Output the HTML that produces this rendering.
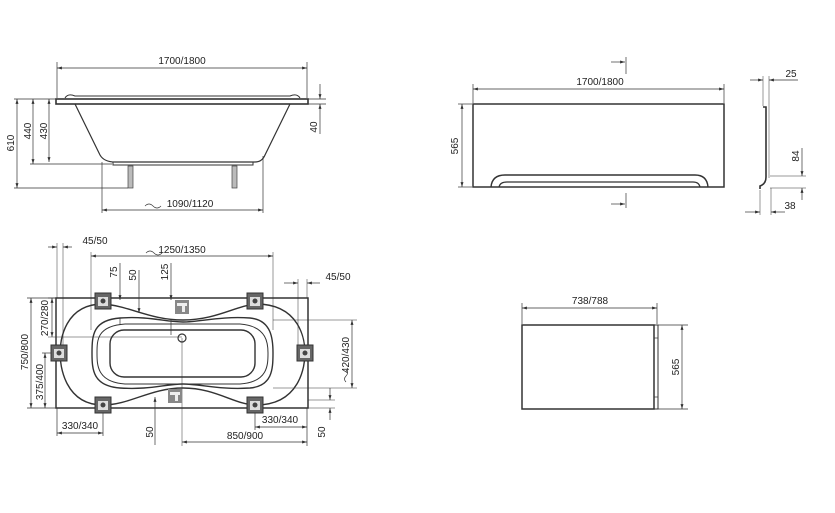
<!DOCTYPE html>
<html><head><meta charset="utf-8"><style>
html,body{margin:0;padding:0;background:#fff;}
svg{display:block;}
text{font-family:"Liberation Sans",sans-serif;font-size:10px;fill:#222;}
</style></head><body>
<svg width="835" height="513" viewBox="0 0 835 513" xmlns="http://www.w3.org/2000/svg">
<defs>
<marker id="a" viewBox="0 0 10 10" refX="10" refY="5" markerWidth="7" markerHeight="7" orient="auto-start-reverse"><path d="M0,2 L10,5 L0,8 z" fill="#333"/></marker>
<g id="br"><rect x="-8" y="-8" width="16" height="16" fill="#666" stroke="#333"/><rect x="-5" y="-4" width="10" height="9" fill="#ddd"/><circle cx="0" cy="0" r="2.5" fill="#444"/></g>
<g id="fc"><rect x="-7" y="-7" width="14" height="14" fill="#888"/><rect x="-5" y="-4" width="10" height="3" fill="#eee"/><rect x="0" y="-1" width="3" height="6" fill="#eee"/></g>
</defs>
<g stroke="#333" stroke-width="0.7" fill="none">
<!-- TOP LEFT: side view -->
<line x1="57" y1="68" x2="307" y2="68" marker-start="url(#a)" marker-end="url(#a)"/>
<line x1="57" y1="62" x2="57" y2="98"/><line x1="307" y1="62" x2="307" y2="98"/>
<path d="M65,98 Q68,93 75,96 L290,96 Q297,93 300,98" stroke-width="1"/>
<rect x="56" y="99" width="252" height="5" stroke-width="1.6"/>
<path d="M75,104 L100,155 Q104,162 115,162 L255,162 Q262,162 265,155 L290,104" stroke-width="1.2"/>
<path d="M113,162 L113,165 L253,165 L253,162" stroke-width="1"/>
<rect x="128" y="166" width="5" height="22" fill="#bbb" stroke="#444"/>
<rect x="232" y="166" width="5" height="22" fill="#bbb" stroke="#444"/>
<line x1="14" y1="99" x2="56" y2="99"/><line x1="30" y1="164" x2="112" y2="164"/><line x1="14" y1="188" x2="128" y2="188"/>
<line x1="17" y1="99" x2="17" y2="188" marker-start="url(#a)" marker-end="url(#a)"/>
<line x1="33" y1="99" x2="33" y2="164" marker-start="url(#a)" marker-end="url(#a)"/>
<line x1="49" y1="99" x2="49" y2="162" marker-start="url(#a)" marker-end="url(#a)"/>
<line x1="308" y1="99" x2="326" y2="99"/><line x1="308" y1="104" x2="326" y2="104"/>
<line x1="320" y1="84" x2="320" y2="99" marker-end="url(#a)"/><line x1="320" y1="134" x2="320" y2="104" marker-end="url(#a)"/>
<line x1="102" y1="162" x2="102" y2="213"/><line x1="263" y1="156" x2="263" y2="213"/>
<line x1="102" y1="210" x2="263" y2="210" marker-start="url(#a)" marker-end="url(#a)"/>
<path d="M145,206 q4,-4 8,0 t8,0"/>

<!-- BOTTOM LEFT: plan view -->
<rect x="56" y="298" width="252" height="110" stroke-width="1.5"/>
<path d="M103,304 C130,306 150,320 183,320 C216,320 235,306 256,304 C300,304 305,340 305,353 C305,366 300,405 256,405 C235,405 216,388 183,388 C150,388 130,405 103,405 C65,405 60,366 60,353 C60,340 65,304 103,304 Z" stroke-width="1.4"/>
<path d="M120,318 C150,316 165,322 183,322 C200,322 220,316 250,318 C272,320 273,340 273,353 C273,370 272,386 250,388 C220,390 200,384 183,384 C165,384 150,390 120,388 C93,386 92,370 92,353 C92,335 93,320 120,318 Z" stroke-width="1.4"/>
<path d="M125,324 L240,324 C268,326 268,345 268,353 C268,365 268,382 240,384 L125,384 C97,382 97,365 97,353 C97,340 97,326 125,324" stroke-width="1"/>
<rect x="110" y="330" width="145" height="47" rx="14" stroke-width="1.4"/>
<circle cx="182" cy="338" r="4" stroke-width="1.2"/>
<!-- dims plan -->
<line x1="57" y1="243" x2="57" y2="298" stroke-width="0.5"/><line x1="63" y1="243" x2="63" y2="350" stroke-width="0.5"/>
<line x1="48" y1="247" x2="57" y2="247" marker-end="url(#a)"/><line x1="72" y1="247" x2="63" y2="247" marker-end="url(#a)"/>
<line x1="91" y1="252" x2="91" y2="330" stroke-width="0.5"/><line x1="273" y1="252" x2="273" y2="330" stroke-width="0.5"/>
<line x1="91" y1="256" x2="273" y2="256" marker-start="url(#a)" marker-end="url(#a)"/>
<path d="M146,253 q4,-4 8,0 t8,0"/>
<line x1="120" y1="263" x2="120" y2="300" marker-end="url(#a)"/>
<line x1="139" y1="270" x2="139" y2="313" marker-end="url(#a)"/>
<line x1="171" y1="263" x2="171" y2="300" marker-end="url(#a)"/>
<line x1="120" y1="318" x2="120" y2="325" /><line x1="171" y1="320" x2="171" y2="335"/>
<line x1="298" y1="279" x2="298" y2="350" stroke-width="0.5"/><line x1="307" y1="279" x2="307" y2="298" stroke-width="0.5"/>
<line x1="284" y1="283" x2="298" y2="283" marker-end="url(#a)"/><line x1="320" y1="283" x2="307" y2="283" marker-end="url(#a)"/>
<line x1="48" y1="298" x2="56" y2="298"/><line x1="48" y1="337" x2="182" y2="337" stroke-width="0.5"/>
<line x1="52" y1="298" x2="52" y2="337" marker-start="url(#a)" marker-end="url(#a)"/>
<line x1="27" y1="298" x2="56" y2="298"/><line x1="27" y1="408" x2="56" y2="408"/>
<line x1="31" y1="298" x2="31" y2="408" marker-start="url(#a)" marker-end="url(#a)"/>
<line x1="42" y1="353" x2="56" y2="353"/>
<line x1="45" y1="353" x2="45" y2="408" marker-start="url(#a)" marker-end="url(#a)"/>
<line x1="273" y1="320" x2="357" y2="320" stroke-width="0.5"/><line x1="273" y1="388" x2="357" y2="388" stroke-width="0.5"/>
<line x1="352" y1="320" x2="352" y2="388" marker-start="url(#a)" marker-end="url(#a)"/>
<path d="M346,382 q-3,-3 0,-6 t0,-6"/>
<line x1="182" y1="338" x2="182" y2="446" stroke-width="0.5"/>
<line x1="57" y1="408" x2="57" y2="436"/><line x1="103" y1="408" x2="103" y2="436"/>
<line x1="57" y1="433" x2="103" y2="433" marker-start="url(#a)" marker-end="url(#a)"/>
<line x1="155" y1="445" x2="155" y2="397" marker-end="url(#a)"/>
<line x1="307" y1="408" x2="307" y2="446"/><line x1="255" y1="408" x2="255" y2="430"/>
<line x1="182" y1="442" x2="307" y2="442" marker-start="url(#a)" marker-end="url(#a)"/>
<line x1="255" y1="427" x2="307" y2="427" marker-start="url(#a)" marker-end="url(#a)"/>
<line x1="308" y1="400" x2="335" y2="400" stroke-width="0.5"/><line x1="308" y1="408" x2="335" y2="408" stroke-width="0.5"/>
<line x1="330" y1="388" x2="330" y2="400" marker-end="url(#a)"/><line x1="330" y1="420" x2="330" y2="408" marker-end="url(#a)"/>

<!-- TOP RIGHT: front panel -->
<line x1="473" y1="89" x2="724" y2="89" marker-start="url(#a)" marker-end="url(#a)"/>
<line x1="473" y1="84" x2="473" y2="103"/><line x1="724" y1="84" x2="724" y2="103"/>
<rect x="473" y="104" width="251" height="83" stroke-width="1.5"/>
<path d="M491,187 Q492,175 505,175 L695,175 Q707,175 708,187" stroke-width="1.4"/>
<path d="M499,187 Q500,182 507,182 L693,182 Q699,182 700,187" stroke-width="1.2"/>
<line x1="458" y1="104" x2="472" y2="104"/><line x1="458" y1="187" x2="472" y2="187"/>
<line x1="462" y1="104" x2="462" y2="187" marker-start="url(#a)" marker-end="url(#a)"/>
<line x1="626" y1="57" x2="626" y2="74"/><line x1="611" y1="62" x2="625" y2="62" marker-end="url(#a)"/>
<line x1="626" y1="193" x2="626" y2="208"/><line x1="611" y1="204" x2="625" y2="204" marker-end="url(#a)"/>
<!-- profile -->
<path d="M763,107 L766,107 L766,177 Q766,184 760,186 L760,189" stroke-width="1.6"/>
<line x1="763" y1="76" x2="763" y2="106" stroke-width="0.5"/><line x1="769" y1="76" x2="769" y2="178" stroke-width="0.5"/>
<line x1="750" y1="80" x2="763" y2="80" marker-end="url(#a)"/><line x1="798" y1="80" x2="769" y2="80" marker-end="url(#a)"/>
<line x1="770" y1="176" x2="806" y2="176" stroke-width="0.5"/><line x1="770" y1="188" x2="806" y2="188" stroke-width="0.5"/>
<line x1="802" y1="148" x2="802" y2="176" marker-end="url(#a)"/><line x1="802" y1="200" x2="802" y2="188" marker-end="url(#a)"/>
<line x1="760" y1="190" x2="760" y2="215" stroke-width="0.5"/><line x1="771" y1="188" x2="771" y2="215" stroke-width="0.5"/>
<line x1="745" y1="212" x2="760" y2="212" marker-end="url(#a)"/><line x1="785" y1="212" x2="771" y2="212" marker-end="url(#a)"/>

<!-- BOTTOM RIGHT: end panel -->
<line x1="522" y1="308" x2="657" y2="308" marker-start="url(#a)" marker-end="url(#a)"/>
<line x1="522" y1="303" x2="522" y2="324"/><line x1="657" y1="303" x2="657" y2="324"/>
<rect x="522" y="325" width="132" height="84" stroke-width="1.5"/>
<rect x="654" y="325" width="4" height="84" stroke-width="1"/>
<line x1="654" y1="338" x2="658" y2="338"/><line x1="654" y1="397" x2="658" y2="397"/>
<line x1="658" y1="325" x2="688" y2="325"/><line x1="658" y1="409" x2="688" y2="409"/>
<line x1="682" y1="325" x2="682" y2="409" marker-start="url(#a)" marker-end="url(#a)"/>
</g>
<use href="#br" x="103" y="301"/><use href="#br" x="255" y="301"/>
<use href="#br" x="59" y="353"/><use href="#br" x="305" y="353"/>
<use href="#br" x="103" y="405"/><use href="#br" x="255" y="405"/>
<use href="#fc" x="182" y="307"/><use href="#fc" x="175" y="396"/>

<text x="182" y="64" text-anchor="middle">1700/1800</text>
<text x="11" y="143" text-anchor="middle" transform="rotate(-90 11 143)" dy="3">610</text>
<text x="28" y="131" text-anchor="middle" transform="rotate(-90 28 131)" dy="3">440</text>
<text x="44" y="131" text-anchor="middle" transform="rotate(-90 44 131)" dy="3">430</text>
<text x="314" y="127" text-anchor="middle" transform="rotate(-90 314 127)" dy="3">40</text>
<text x="190" y="207" text-anchor="middle">1090/1120</text>

<text x="95" y="244" text-anchor="middle">45/50</text>
<text x="182" y="253" text-anchor="middle">1250/1350</text>
<text x="114" y="272" text-anchor="middle" transform="rotate(-90 114 272)" dy="3">75</text>
<text x="133" y="275" text-anchor="middle" transform="rotate(-90 133 275)" dy="3">50</text>
<text x="165" y="272" text-anchor="middle" transform="rotate(-90 165 272)" dy="3">125</text>
<text x="338" y="280" text-anchor="middle">45/50</text>
<text x="45" y="318" text-anchor="middle" transform="rotate(-90 45 318)" dy="3">270/280</text>
<text x="25" y="352" text-anchor="middle" transform="rotate(-90 25 352)" dy="3">750/800</text>
<text x="40" y="382" text-anchor="middle" transform="rotate(-90 40 382)" dy="3">375/400</text>
<text x="346" y="355" text-anchor="middle" transform="rotate(-90 346 355)" dy="3">420/430</text>
<text x="80" y="429" text-anchor="middle">330/340</text>
<text x="150" y="432" text-anchor="middle" transform="rotate(-90 150 432)" dy="3">50</text>
<text x="280" y="423" text-anchor="middle">330/340</text>
<text x="245" y="439" text-anchor="middle">850/900</text>
<text x="322" y="432" text-anchor="middle" transform="rotate(-90 322 432)" dy="3">50</text>

<text x="600" y="85" text-anchor="middle">1700/1800</text>
<text x="455" y="146" text-anchor="middle" transform="rotate(-90 455 146)" dy="3">565</text>
<text x="791" y="77" text-anchor="middle">25</text>
<text x="796" y="156" text-anchor="middle" transform="rotate(-90 796 156)" dy="3">84</text>
<text x="790" y="209" text-anchor="middle">38</text>
<text x="590" y="304" text-anchor="middle">738/788</text>
<text x="676" y="367" text-anchor="middle" transform="rotate(-90 676 367)" dy="3">565</text>
</svg>
</body></html>
